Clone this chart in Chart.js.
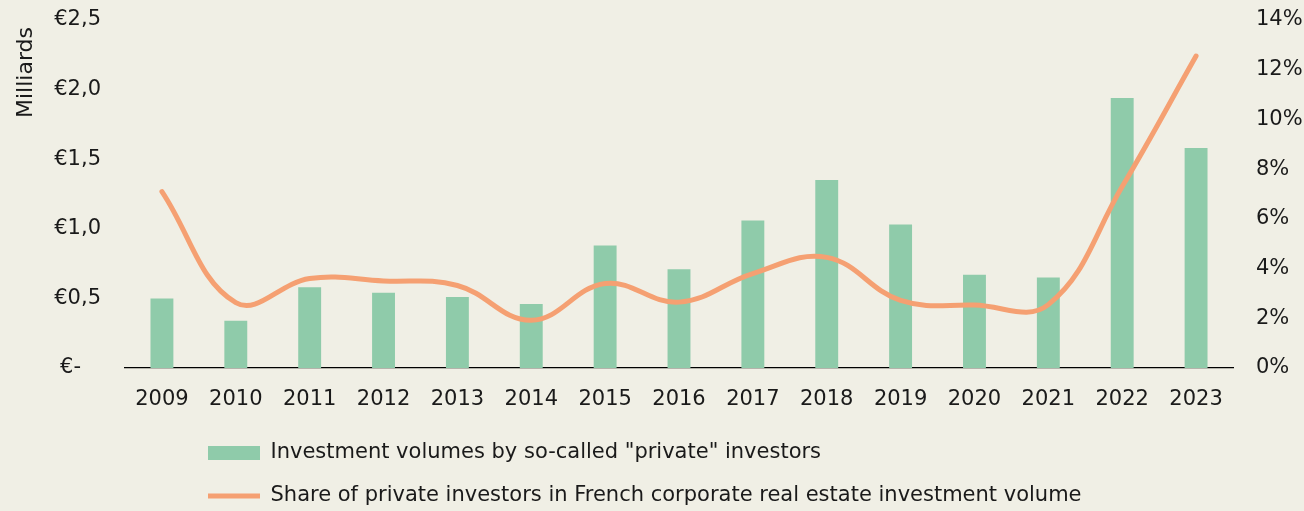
<!DOCTYPE html>
<html>
<head>
<meta charset="utf-8">
<script src="https://cdn.jsdelivr.net/npm/chart.js@4/dist/chart.umd.min.js"></script>
<style>
  html, body { margin: 0; padding: 0; background: #F0EFE5; }
  #wrap { width: 1304px; height: 511px; position: relative; }
</style>
</head>
<body>
<div id="wrap"><canvas id="c"></canvas></div>
<script>
const years = ['2009','2010','2011','2012','2013','2014','2015','2016','2017','2018','2019','2020','2021','2022','2023'];
const volumes = [0.50, 0.34, 0.58, 0.54, 0.51, 0.46, 0.88, 0.71, 1.06, 1.35, 1.03, 0.67, 0.65, 1.94, 1.58];
const shares = [7.1, 2.63, 3.6, 3.5, 3.32, 1.92, 3.4, 2.65, 3.8, 4.45, 2.72, 2.53, 2.55, 7.3, 12.55];
const volumeLabel = 'Investment volumes by so-called "private" investors';
const shareLabel = 'Share of private investors in French corporate real estate investment volume';
const leftTitle = 'Milliards';

const FONT = '"DejaVu Sans"';
const TXT = '#1a1a1a';

const legendPlace = {
  id: 'legendPlace',
  afterLayout(chart) {
    const lg = chart.legend;
    lg.left = 186;
    lg.top = 420.5;
  }
};

new Chart(document.getElementById('c'), {
  data: {
    labels: years,
    datasets: [
      {
        type: 'bar',
        label: volumeLabel,
        data: volumes,
        yAxisID: 'y',
        backgroundColor: '#8FCBAA',
        borderWidth: 0,
        barPercentage: 0.31,
        categoryPercentage: 1,
        pointStyle: 'rect',
        order: 2
      },
      {
        type: 'line',
        label: shareLabel,
        data: shares,
        yAxisID: 'y1',
        borderColor: '#F5A072',
        backgroundColor: '#F5A072',
        borderWidth: 5,
        borderCapStyle: 'round',
        pointRadius: 0,
        pointHoverRadius: 0,
        pointStyle: 'line',
        tension: 0.4,
        fill: false,
        order: 1
      }
    ]
  },
  options: {
    responsive: true,
    maintainAspectRatio: false,
    animation: false,
    layout: { padding: { top: 20, bottom: 0, left: 0, right: 0 } },
    plugins: {
      tooltip: { enabled: false },
      legend: {
        position: 'bottom',
        align: 'start',
        maxWidth: 1000,
        labels: {
          usePointStyle: true,
          pointStyleWidth: 52,
          boxHeight: 14,
          padding: 22,
          color: TXT,
          font: { family: FONT, size: 21 },
          sort: (a, b) => a.datasetIndex - b.datasetIndex
        }
      }
    },
    scales: {
      x: {
        grid: { display: false },
        border: { display: true, color: '#000', width: 1.2 },
        ticks: { color: TXT, font: { family: FONT, size: 21 }, padding: 11, maxRotation: 0 },
        afterFit(s) { s.height = 47; }
      },
      y: {
        position: 'left',
        min: 0, max: 2.5,
        grid: { display: false, tickLength: 22 },
        border: { display: false },
        ticks: {
          stepSize: 0.5,
          color: TXT,
          font: { family: FONT, size: 21 },
          padding: 2,
          callback: v => v === 0 ? '€-   ' : '€' + v.toFixed(1).replace('.', ',')
        },
        title: {
          display: true,
          text: leftTitle + ' ',
          align: 'end',
          color: TXT,
          font: { family: FONT, size: 22 },
          padding: { top: 13, bottom: 0 }
        },
        afterFit(s) { s.width = 125; }
      },
      y1: {
        position: 'right',
        min: 0, max: 14,
        grid: { display: false, tickLength: 21 },
        border: { display: false },
        ticks: {
          stepSize: 2,
          color: TXT,
          font: { family: FONT, size: 21 },
          padding: 2,
          callback: v => v + '%'
        },
        afterFit(s) { s.width = 71; }
      }
    }
  },
  plugins: [legendPlace]
});
</script>
</body>
</html>
